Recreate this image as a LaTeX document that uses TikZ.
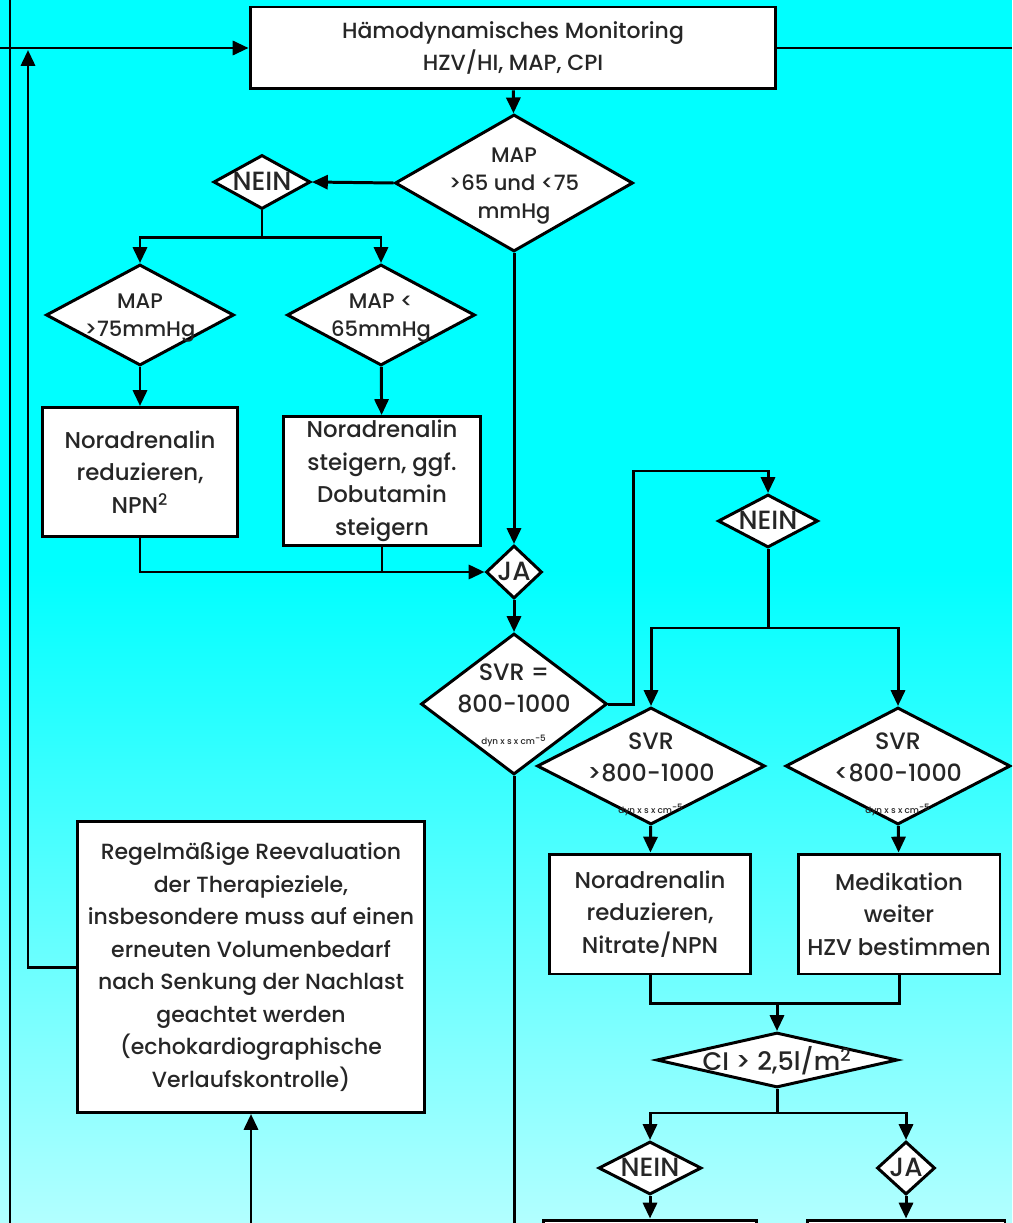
\documentclass[tikz,border=0pt]{standalone}
\usepackage{fontspec}
\setmainfont{Poppins}[UprightFont=* Medium]
\usetikzlibrary{shapes.geometric,arrows.meta}

\definecolor{bgtop}{RGB}{0,255,255}
\definecolor{bgbot}{RGB}{178,255,255}
% diamond text: centred, takes no room in the node
\newcommand{\dtxt}[2][0pt]{\smash{\makebox[0pt]{\raisebox{\dimexpr-0.35em-#1\relax}{\begin{tabular}{@{}c@{}}#2\end{tabular}}}}}
\newcommand{\dyn}{{\fontsize{5}{6}\selectfont dyn x s x cm\textsuperscript{-5}}}

\begin{document}
\begin{tikzpicture}[x=0.02cm,y=-0.02cm,->,>={Triangle[length=9pt,width=8pt]},
      line width=1.7pt,text=black!85,
      act node/.style={rectangle,draw,fill=white,inner sep=0pt,align=center,
        font=\fontsize{13}{18.5}\selectfont},
      check node/.style={diamond,draw,fill=white,inner sep=0pt,
        font=\fontsize{12}{16}\selectfont},
      big check/.style={check node,font=\fontsize{13.5}{18.3}\selectfont},
      answer node/.style={check node,font=\fontsize{15}{16}\selectfont}]
    \useasboundingbox (0,0) rectangle (1012,1223);
    \clip (0,0) rectangle (1012,1223);
    \fill[bgtop] (0,0) rectangle (1012,570);
    \shade[top color=bgtop,bottom color=bgbot] (0,570) rectangle (1012,1223);

    % loose ends
    \coordinate (inL) at (0,48);
    \coordinate (outR) at (1012,48);
    \coordinate (edgeT) at (10,0);
    \coordinate (edgeB) at (10,1223);
    \coordinate (loopup) at (28,50);
    \coordinate (lowA) at (251,1223);
    \coordinate (lowB) at (514,1223);

    \node[act node,minimum width=10.52cm,minimum height=1.64cm,
      font=\fontsize{12.5}{18}\selectfont] (hemo) at (513,48)
      {Hämodynamisches Monitoring\\HZV/HI, MAP, CPI};
    \node[check node,minimum width=4.76cm,minimum height=2.74cm] (map) at (514,183)
      {\dtxt{MAP\\>65 und <75\\mmHg}};
    \node[answer node,minimum width=1.94cm,minimum height=1.08cm] (nein1) at (262,182)
      {\dtxt{NEIN}};
    \node[check node,minimum width=3.76cm,minimum height=2.02cm] (maphi) at (140,315)
      {\dtxt{MAP\\>75mmHg}};
    \node[check node,minimum width=3.76cm,minimum height=2.02cm] (maplo) at (381,315)
      {\dtxt{MAP <\\65mmHg}};
    \node[act node,minimum width=3.92cm,minimum height=2.58cm] (nared) at (140,472)
      {Noradrenalin\\reduzieren,\\NPN\textsuperscript{2}};
    \node[act node,minimum width=3.96cm,minimum height=2.58cm] (nasteig) at (382,481)
      {Noradrenalin\\steigern, ggf.\\Dobutamin\\steigern};
    \node[answer node,minimum width=1.12cm,minimum height=1.06cm] (ja1) at (514,572)
      {\dtxt{JA}};
    \node[big check,minimum width=3.72cm,minimum height=2.82cm] (svr) at (514,704)
      {\dtxt{SVR =\\800-1000\\\dyn}};
    \node[answer node,minimum width=2cm,minimum height=1.06cm] (nein2) at (768,521)
      {\dtxt{NEIN}};
    \node[big check,minimum width=4.56cm,minimum height=2.34cm] (svrhi) at (651,766)
      {\dtxt[4pt]{SVR\\>800-1000\\\dyn}};
    \node[big check,minimum width=4.5cm,minimum height=2.34cm] (svrlo) at (898,766)
      {\dtxt[4pt]{SVR\\<800-1000\\\dyn}};
    \node[act node,minimum width=4.02cm,minimum height=2.4cm] (nanitr) at (650,914)
      {Noradrenalin\\reduzieren,\\Nitrate/NPN};
    \node[act node,minimum width=4.04cm,minimum height=2.4cm] (medik) at (899,914)
      {Medikation\\weiter\\HZV bestimmen};
    \node[big check,minimum width=4.82cm,minimum height=1.1cm,
      font=\fontsize{14.5}{16}\selectfont] (ci) at (777,1060)
      {\dtxt{CI > 2,5l/m\textsuperscript{2}}};
    \node[answer node,minimum width=2.06cm,minimum height=1.06cm] (nein3) at (650,1168)
      {\dtxt{NEIN}};
    \node[answer node,minimum width=1.16cm,minimum height=1.06cm] (ja3) at (906,1168)
      {\dtxt{JA}};
    \node[act node,minimum width=4.28cm,minimum height=2cm] (next1) at (650,1270) {};
    \node[act node,minimum width=3.96cm,minimum height=2cm] (next2) at (906,1270) {};
    \node[act node,minimum width=6.96cm,minimum height=5.82cm,
      font=\fontsize{12.5}{18.5}\selectfont] (reeval) at (251,967)
      {Regelmäßige Reevaluation\\der Therapieziele,\\insbesondere muss auf einen\\
       erneuten Volumenbedarf\\nach Senkung der Nachlast\\geachtet werden\\
       (echokardiographische\\Verlaufskontrolle)};

    % connectors
    \draw[-] (edgeT) -- (edgeB);
    \draw (inL) -- (hemo.west);
    \draw[-] (hemo.east) -- (outR);
    \draw (reeval.west) -| (loopup);
    \draw (lowA) -- (reeval.south);
    \draw[-] (svr.south) -- (lowB);
    \path (hemo) edge (map)
      (map.west) edge (nein1.east)
      (maphi) edge (nared)
      (maplo) edge (nasteig)
      (map) edge (ja1)
      (ja1) edge (svr)
      (svrhi) edge (nanitr)
      (svrlo) edge (medik)
      (nein3) edge (next1)
      (ja3) edge (next2);
    \draw[-] (nein1.south) -- ++(0,27) coordinate (split1);
    \draw (split1) -| (maphi.north);
    \draw (split1) -| (maplo.north);
    \draw (nared.south) |- (ja1.west);
    \draw[-] (nasteig.south) -- (nasteig.south |- ja1.west);
    \draw (svr.east) -- ++(25,0) -- ++(0,-233) -| (nein2.north);
    \draw[-] (nein2.south) -- ++(0,79) coordinate (split2);
    \draw (split2) -| (svrhi.north);
    \draw (split2) -| (svrlo.north);
    \coordinate (join) at (777,1003);
    \draw[-] (nanitr.south) |- (join) -| (medik.south);
    \draw (join) -- (ci.north);
    \draw[-] (ci.south) -- ++(0,24) coordinate (split3);
    \draw (split3) -| (nein3.north);
    \draw (split3) -| (ja3.north);
\end{tikzpicture}
\end{document}
